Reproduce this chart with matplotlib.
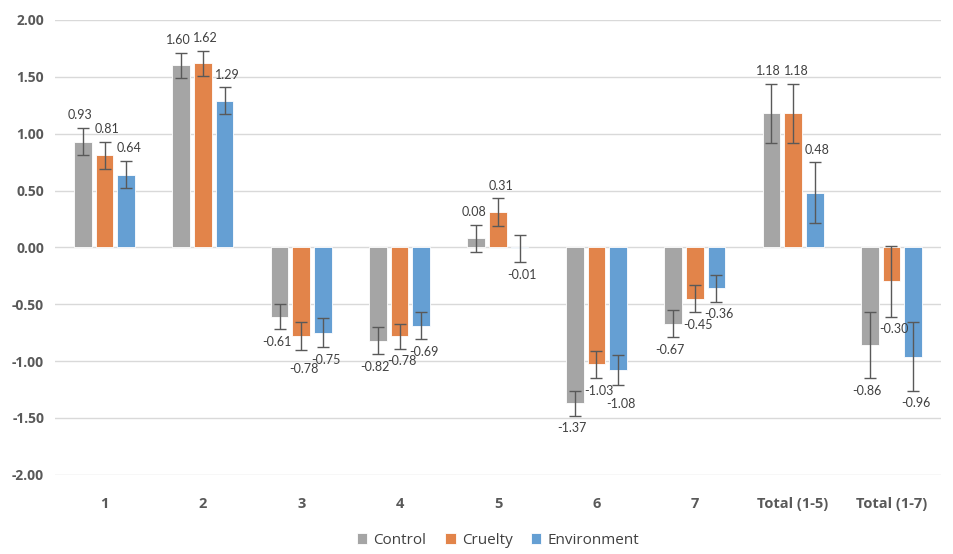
import numpy as np
import matplotlib
matplotlib.use('Agg')
import matplotlib.pyplot as plt

categories = ['1', '2', '3', '4', '5', '6', '7', 'Total (1-5)', 'Total (1-7)']
series = ['Control', 'Cruelty', 'Environment']
control = [0.93, 1.60, -0.61, -0.82, 0.08, -1.37, -0.67, 1.18, -0.86]
cruelty = [0.81, 1.62, -0.78, -0.78, 0.31, -1.03, -0.45, 1.18, -0.30]
environment = [0.64, 1.29, -0.75, -0.69, -0.01, -1.08, -0.36, 0.48, -0.96]
control_err = [0.12, 0.11, 0.11, 0.12, 0.12, 0.11, 0.12, 0.26, 0.29]
cruelty_err = [0.12, 0.11, 0.12, 0.11, 0.12, 0.12, 0.12, 0.26, 0.31]
environment_err = [0.12, 0.12, 0.13, 0.12, 0.12, 0.13, 0.12, 0.27, 0.30]
yticks = [2.0, 1.5, 1.0, 0.5, 0.0, -0.5, -1.0, -1.5, -2.0]

colors = ['#A5A5A5', '#E2844A', '#659FD3']
plt.rcParams['font.family'] = ['Open Sans', 'DejaVu Sans']

fig = plt.figure(figsize=(9.54, 5.54), dpi=100)
ax = fig.add_axes([0.058, 0.143, 0.928, 0.821])

x = np.arange(len(categories))
width = 0.18
offsets = [-0.22, 0.0, 0.22]
nudge = [-2, 2, 2]  # label shift in points, keeps neighbours apart
# a couple of labels sit a bit lower in the original, (series, category) -> points
extra_drop = {(1, 2): 5, (2, 5): 5}
vals = [control, cruelty, environment]
errs = [control_err, cruelty_err, environment_err]

for k in range(3):
    ax.bar(x + offsets[k], vals[k], width, color=colors[k], edgecolor='white',
           linewidth=0.6, label=series[k], zorder=3)
    ax.errorbar(x + offsets[k], vals[k], yerr=errs[k], fmt='none',
                ecolor='#595959', elinewidth=1, capsize=4, capthick=1, zorder=4)
    for i, (xi, v, e) in enumerate(zip(x + offsets[k], vals[k], errs[k])):
        if v >= 0:
            y0, dy = v + e, 9
        else:
            y0, dy = v - e, -9 - extra_drop.get((k, i), 0)
        ax.annotate('%.2f' % v, (xi, y0), xytext=(nudge[k], dy), textcoords='offset points',
                    ha='center', va='center', fontsize=9, color='#404040', zorder=5,
                    family=['Lato', 'DejaVu Sans'])

ax.set_xlim(-0.5, len(categories) - 0.5)
ax.set_ylim(-2.0, 2.0)
ax.set_yticks(yticks)
ax.set_yticklabels(['%.2f' % t for t in yticks], fontweight='bold', fontsize=10, color='#595959')
ax.set_xticks(x)
ax.set_xticklabels(categories, fontweight='bold', fontsize=10.5, color='#595959')
ax.tick_params(axis='both', length=0)
ax.tick_params(axis='y', pad=8)
ax.tick_params(axis='x', pad=16)
ax.grid(axis='y', color='#D9D9D9', linewidth=1, zorder=0)
for s in ax.spines.values():
    s.set_visible(False)

leg = ax.legend(loc='upper center', bbox_to_anchor=(0.5, -0.098), ncol=3, frameon=False,
                fontsize=11, handlelength=0.7, handleheight=0.7, handletextpad=0.4,
                columnspacing=1.2)
for t in leg.get_texts():
    t.set_color('#404040')

fig.savefig('out.png', dpi=100)
